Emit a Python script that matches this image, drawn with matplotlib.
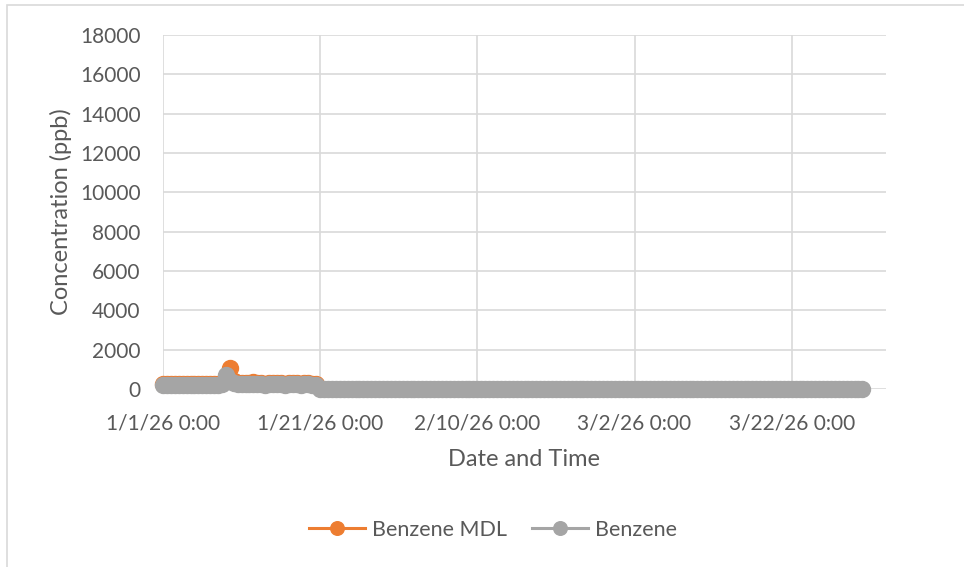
import pandas as pd
import matplotlib.pyplot as plt
from matplotlib.patches import Rectangle

plt.rcParams['font.family'] = ['Lato', 'DejaVu Sans']

# Early period, every 12 hours from 1/1/26 0:00 (both series)
early_times = pd.date_range('2026-01-01 00:00', periods=40, freq='12h')
mdl_early = [260, 250, 260, 270, 260, 270, 260, 260, 270, 260,
             260, 260, 270, 270, 260, 290, 520, 1050, 400, 300,
             280, 290, 280, 340, 300, 280, 270, 290, 320, 300,
             280, 270, 300, 310, 280, 270, 280, 290, 260, 250]
benz_early = [210, 200, 210, 220, 210, 220, 210, 210, 220, 210,
              210, 210, 220, 220, 210, 240, 700, 400, 290, 240,
              230, 240, 230, 260, 240, 230, 220, 240, 260, 240,
              230, 220, 240, 250, 230, 220, 230, 240, 210, 200]

# Later period, every 12 hours from 1/21/26 0:00 (Benzene only)
late_times = pd.date_range('2026-01-21 00:00', periods=139, freq='12h')
benz_late = [20, 10, 15, 10, 5, 10, 15, 10, 5, 10,
             10, 5, 10, 15, 10, 5, 10, 10, 5, 10,
             15, 10, 5, 10, 10, 5, 10, 15, 10, 5,
             10, 10, 5, 10, 15, 10, 5, 10, 10, 5,
             10, 15, 10, 5, 10, 10, 5, 10, 15, 10,
             5, 10, 10, 5, 10, 15, 10, 5, 10, 10,
             5, 10, 15, 10, 5, 10, 10, 5, 10, 10,
             10, 5, 10, 15, 10, 5, 10, 10, 5, 10,
             15, 10, 5, 10, 10, 5, 10, 15, 10, 5,
             10, 10, 5, 10, 15, 10, 5, 10, 10, 5,
             10, 15, 10, 5, 10, 10, 5, 10, 15, 10,
             5, 10, 10, 5, 10, 15, 10, 5, 10, 10,
             5, 10, 15, 10, 5, 10, 10, 5, 10, 10,
             10, 5, 10, 15, 10, 5, 10, 10, 5]

benz_times = early_times.append(late_times)
benz_vals = benz_early + benz_late

tick_dates = pd.to_datetime(['2026-01-01', '2026-01-21', '2026-02-10', '2026-03-02', '2026-03-22'])
y_ticks = list(range(0, 18001, 2000))

text_color = '#595959'
grid_color = '#D9D9D9'

fig = plt.figure(figsize=(9.64, 5.67), dpi=100)
ax = fig.add_axes([163 / 964, 1 - 389 / 567, 723 / 964, 354 / 567])

# chart border (only top and left edges are in view)
fig.patches.append(Rectangle((6.5 / 964, -0.1), 1.2, 1.1 - 5 / 567,
                             transform=fig.transFigure, fill=False,
                             edgecolor=grid_color, linewidth=1.2))

ax.plot(early_times, mdl_early, color='#ED7D31', marker='o', markersize=11.5,
        linewidth=2.2, label='Benzene MDL', zorder=3, clip_on=False)
ax.plot(benz_times, benz_vals, color='#A5A5A5', marker='o', markersize=11.5,
        linewidth=2.2, label='Benzene', zorder=4, clip_on=False)

ax.set_xlim(pd.Timestamp('2026-01-01'), pd.Timestamp('2026-01-01') + pd.Timedelta(days=92))
ax.set_ylim(0, 18000)
ax.set_xticks(tick_dates)
ax.set_xticklabels([d.strftime('%-m/%-d/%y 0:00') for d in tick_dates])
ax.set_yticks(y_ticks)

ax.grid(True, color=grid_color, linewidth=1.2)
ax.set_axisbelow(True)
for s in ax.spines.values():
    s.set_visible(False)
ax.tick_params(length=0, labelsize=15, colors=text_color)
ax.tick_params(axis='y', pad=16)
ax.tick_params(axis='x', pad=18)

ax.set_xlabel('Date and Time', fontsize=17, color=text_color, labelpad=11)
ax.set_ylabel('Concentration (ppb)', fontsize=17, color=text_color, labelpad=6)

fig.legend(loc='center', bbox_to_anchor=(493 / 964, 1 - 530 / 567), ncol=2,
           frameon=False, fontsize=15.5, labelcolor=text_color, markerscale=0.85,
           handlelength=2.6, columnspacing=1.2, handletextpad=0.3)

fig.savefig('out.png', dpi=100)
